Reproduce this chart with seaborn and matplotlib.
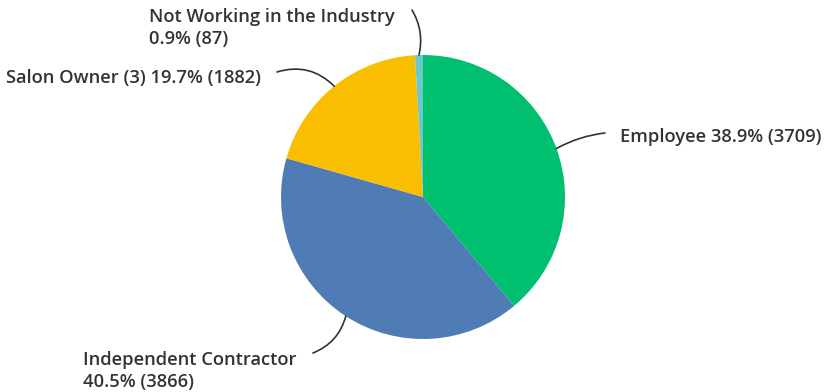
import numpy as np
import matplotlib
matplotlib.use("Agg")
import matplotlib.pyplot as plt
import seaborn as sns

categories = ["Employee", "Independent Contractor", "Salon Owner (3)", "Not Working in the Industry"]
percents = [38.9, 40.5, 19.7, 0.9]
counts = [3709, 3866, 1882, 87]
label_texts = [
    "Employee 38.9% (3709)",
    "Independent Contractor\n40.5% (3866)",
    "Salon Owner (3) 19.7% (1882)",
    "Not Working in the Industry\n0.9% (87)",
]
colors = ["#00BF6F", "#507CB6", "#F9BE00", "#6BC8CD"]

sns.set_theme(style="white")
plt.rcParams["font.family"] = ["Open Sans", "DejaVu Sans"]

W, H = 831, 392
fig = plt.figure(figsize=(W / 100, H / 100), dpi=100)
ax = fig.add_axes([0, 0, 1, 1])

cx, cy, r = 423, 195, 142
wedges, _ = ax.pie(percents, colors=colors, startangle=90, counterclock=False,
                   center=(cx, cy), radius=r, frame=True,
                   wedgeprops=dict(linewidth=0))
ax.set_xlim(0, W)
ax.set_ylim(0, H)
ax.set_aspect("equal")
ax.axis("off")

# label anchor (text position), line end and curvature per slice
layout = [
    dict(text=(620, H - 137), ha="left", end=(605, H - 133), rad=0.1),
    dict(text=(83, H - 371), ha="left", end=(313, H - 353), rad=0.25),
    dict(text=(261, H - 78), ha="right", end=(277, H - 72), rad=-0.3),
    dict(text=(149, H - 28), ha="left", end=(412, H - 10), rad=-0.2),
]

for w, lab, lay in zip(wedges, label_texts, layout):
    ang = np.deg2rad((w.theta1 + w.theta2) / 2)
    ex, ey = cx + r * np.cos(ang), cy + r * np.sin(ang)
    ax.annotate("", xy=(ex, ey), xytext=lay["end"],
                arrowprops=dict(arrowstyle="-", color="#333333", lw=1.2,
                                connectionstyle=f"arc3,rad={lay['rad']}",
                                shrinkA=0, shrinkB=0))
    ax.text(lay["text"][0], lay["text"][1], lab, ha=lay["ha"], va="center",
            fontsize=13.2, fontweight="semibold", color="#333333", linespacing=1.3)

fig.savefig("out.png", dpi=100, facecolor="white")
